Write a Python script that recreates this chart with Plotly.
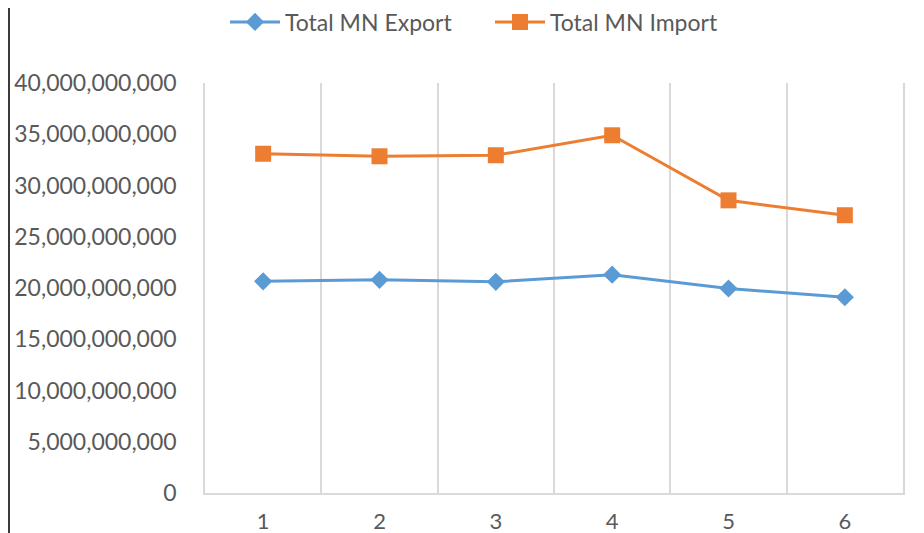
import plotly.graph_objects as go

categories = ["1", "2", "3", "4", "5", "6"]
export_vals = [20.65e9, 20.8e9, 20.6e9, 21.3e9, 19.95e9, 19.1e9]
import_vals = [33.1e9, 32.85e9, 32.95e9, 34.9e9, 28.55e9, 27.1e9]
y_ticks = [0, 5e9, 10e9, 15e9, 20e9, 25e9, 30e9, 35e9, 40e9]

FONT = "Lato, Roboto, sans-serif"
TXT = "#595959"
GRID = "#D9D9D9"

OFF = 8  # page body margin
W, H = 924 - OFF, 533 - OFF
ML, MR, MT, MB = 205 - OFF, 21, 83 - OFF, 40
PW, PH = W - ML - MR, H - MT - MB


def px_x(x):  # page pixel -> paper
    return (x - OFF - ML) / PW


def px_y(y):
    return (H - MB - (y - OFF)) / PH


fig = go.Figure()
fig.add_trace(go.Scatter(
    x=categories, y=export_vals, name="Total MN Export", mode="lines+markers",
    line=dict(color="#5B9BD5", width=3),
    marker=dict(symbol="diamond", size=14, color="#5B9BD5"),
))
fig.add_trace(go.Scatter(
    x=categories, y=import_vals, name="Total MN Import", mode="lines+markers",
    line=dict(color="#ED7D31", width=3),
    marker=dict(symbol="square", size=16, color="#ED7D31"),
))

shapes = [dict(type="line", xref="paper", yref="paper", x0=px_x(9), x1=px_x(9),
               y0=px_y(-10), y1=px_y(540), line=dict(color="#3a3a3a", width=2))]

fig.update_layout(
    width=W, height=H,
    margin=dict(l=ML, r=MR, t=MT, b=MB, autoexpand=False),
    paper_bgcolor="white", plot_bgcolor="white",
    font=dict(family=FONT, size=23, color=TXT),
    showlegend=True,
    legend=dict(orientation="h", x=px_x(225), xanchor="left", y=px_y(22), yanchor="middle",
                font=dict(size=23, color=TXT), itemwidth=50, tracegroupgap=0,
                entrywidth=200, entrywidthmode="pixels"),
    xaxis=dict(type="category", range=[-0.5, len(categories) - 0.5], tickson="boundaries",
               showgrid=True, gridcolor=GRID,
               gridwidth=1.5, showline=True, linecolor=GRID, linewidth=1.5,
               ticks="", ticklabelstandoff=8, tickfont=dict(size=22, color=TXT)),
    yaxis=dict(range=[0, 40e9], tickvals=y_ticks, tickformat=",", showgrid=False,
               zeroline=False, showline=True, mirror=True, linecolor=GRID, linewidth=1.5,
               ticks="", ticklabelstandoff=22,
               tickfont=dict(size=23, color=TXT)),
    shapes=shapes,
)

fig.write_html("out.html")
